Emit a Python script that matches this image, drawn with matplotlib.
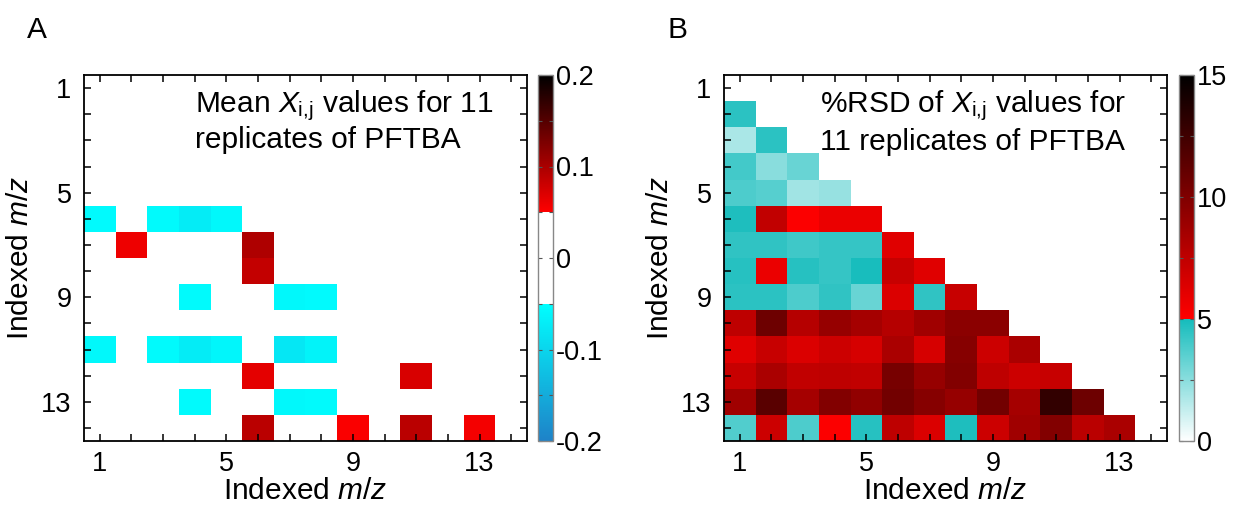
import numpy as np
import matplotlib
matplotlib.use("Agg")
import matplotlib.pyplot as plt
from matplotlib.colors import LinearSegmentedColormap
from matplotlib.ticker import FixedLocator

plt.rcParams['font.family'] = ['Liberation Sans', 'DejaVu Sans']
plt.rcParams['mathtext.fontset'] = 'custom'
plt.rcParams['mathtext.rm'] = 'Liberation Sans'
plt.rcParams['mathtext.it'] = 'Liberation Sans:italic'

# ---------------- data ----------------
n_mz = 14
tick_labels = [1, 5, 9, 13]

# Panel A: mean X_ij (lower triangle, row i has columns 1..i-1)
mean_rows = [
    [],
    [0.0],
    [0.0, 0.0],
    [0.0, 0.0, 0.0],
    [0.0, 0.0, 0.0, 0.0],
    [-0.055, 0.0, -0.056, -0.072, -0.058],
    [0.0, 0.060, 0.0, 0.0, 0.0, 0.097],
    [0.0, 0.0, 0.0, 0.0, 0.0, 0.085, 0.0],
    [0.0, 0.0, 0.0, -0.056, 0.0, 0.0, -0.058, -0.055],
    [0.0, 0.0, 0.0, 0.0, 0.0, 0.0, 0.0, 0.0, 0.0],
    [-0.058, 0.0, -0.056, -0.072, -0.060, 0.0, -0.078, -0.064, 0.0, 0.0],
    [0.0, 0.0, 0.0, 0.0, 0.0, 0.065, 0.0, 0.0, 0.0, 0.0, 0.072],
    [0.0, 0.0, 0.0, -0.056, 0.0, 0.0, -0.058, -0.056, 0.0, 0.0, 0.0, 0.0],
    [0.0, 0.0, 0.0, 0.0, 0.0, 0.090, 0.0, 0.0, 0.053, 0.0, 0.090, 0.0, 0.056],
]

# Panel B: %RSD of X_ij
rsd_rows = [
    [],
    [4.5],
    [1.8, 4.5],
    [4.0, 2.5, 3.2],
    [3.8, 3.6, 2.0, 2.2],
    [4.8, 7.4, 5.1, 5.8, 5.8],
    [4.4, 4.4, 4.1, 4.3, 4.3, 6.2],
    [4.6, 5.8, 4.6, 4.3, 4.9, 7.2, 6.2],
    [4.5, 4.5, 3.8, 4.4, 3.2, 6.4, 4.4, 7.2],
    [7.5, 10.7, 7.9, 9.1, 8.5, 7.9, 8.7, 9.5, 9.5],
    [6.2, 7.2, 6.4, 7.0, 6.6, 8.3, 6.6, 9.7, 7.0, 8.3],
    [7.2, 8.3, 7.4, 7.5, 7.4, 10.3, 9.1, 9.9, 7.5, 7.0, 7.2],
    [8.7, 11.5, 8.5, 9.9, 9.3, 10.5, 9.7, 9.1, 10.5, 8.5, 13.0, 10.7],
    [3.7, 7.0, 3.8, 5.1, 4.6, 7.5, 6.4, 4.8, 7.0, 8.7, 9.9, 7.7, 8.3],
]

title_a = [r"Mean $\mathit{X}_{\mathrm{i{,}j}}$ values for 11", "replicates of PFTBA"]
title_b = [r"%RSD of $\mathit{X}_{\mathrm{i{,}j}}$ values for", "11 replicates of PFTBA"]


def to_matrix(rows):
    m = np.full((n_mz, n_mz), np.nan)
    for i, r in enumerate(rows):
        for j, v in enumerate(r):
            m[i, j] = v
    return m


mean_mat = to_matrix(mean_rows)
rsd_mat = to_matrix(rsd_rows)

# ---------------- colormaps ----------------
cmap_a = LinearSegmentedColormap.from_list("meanmap", [
    (0.0, (30/255, 130/255, 200/255)),
    (0.375, (0.0, 1.0, 1.0)),
    (0.3751, (1.0, 1.0, 1.0)),
    (0.6249, (1.0, 1.0, 1.0)),
    (0.625, (1.0, 0.0, 0.0)),
    (1.0, (0.0, 0.0, 0.0)),
], N=512)
cmap_a.set_bad('white')

cmap_b = LinearSegmentedColormap.from_list("rsdmap", [
    (0.0, (1.0, 1.0, 1.0)),
    (1/3, (20/255, 188/255, 188/255)),
    (1/3 + 1e-4, (1.0, 0.0, 0.0)),
    (1.0, (0.0, 0.0, 0.0)),
], N=512)
cmap_b.set_bad('white')

W, H = 1233, 508
fig = plt.figure(figsize=(W/100, H/100), dpi=100)

FS_TICK = 19.5
FS_LAB = 21.5


def px(x0, y0, x1, y1):
    return [x0/W, 1 - y1/H, (x1 - x0)/W, (y1 - y0)/H]


def style_axes(ax):
    ax.set_xlim(0.5, n_mz + 0.5)
    ax.set_ylim(n_mz + 0.5, 0.5)
    ax.xaxis.set_major_locator(FixedLocator(tick_labels))
    ax.yaxis.set_major_locator(FixedLocator(tick_labels))
    minors = [k for k in range(1, n_mz + 1) if k not in tick_labels]
    ax.xaxis.set_minor_locator(FixedLocator(minors))
    ax.yaxis.set_minor_locator(FixedLocator(minors))
    ax.set_xticklabels([str(t) for t in tick_labels])
    ax.set_yticklabels([str(t) for t in tick_labels])
    ax.tick_params(which='both', direction='in', length=5, width=1.1,
                   top=True, right=True, labelsize=FS_TICK, pad=9, color='black')
    ax.tick_params(axis='x', which='both', pad=7)
    for s in ax.spines.values():
        s.set_linewidth(1.3)
    ax.set_xlabel(r"Indexed $\mathit{m/z}$", fontsize=FS_LAB, labelpad=0)
    ax.set_ylabel(r"Indexed $\mathit{m/z}$", fontsize=FS_LAB, labelpad=5)


def style_cbar(cb, ticks, minors):
    cb.set_ticks(ticks)
    cb.ax.yaxis.set_minor_locator(FixedLocator(minors))
    cb.ax.tick_params(which='both', direction='in', length=3, width=0.8,
                      labelsize=FS_TICK, pad=2, color='#555555', left=True, right=True)
    cb.outline.set_edgecolor('#888888')
    cb.outline.set_linewidth(1.0)


# Panel A
axA = fig.add_axes(px(84, 75, 527, 441))
imA = axA.imshow(mean_mat, cmap=cmap_a, vmin=-0.2, vmax=0.2,
                 extent=[0.5, n_mz + 0.5, n_mz + 0.5, 0.5],
                 aspect='auto', interpolation='nearest')
style_axes(axA)
caxA = fig.add_axes(px(538, 75, 553, 441))
cbA = fig.colorbar(imA, cax=caxA)
style_cbar(cbA, [-0.2, -0.1, 0, 0.1, 0.2], [-0.15, -0.05, 0.05, 0.15])
cbA.set_ticklabels(["-0.2", "-0.1", "0", "0.1", "0.2"])

# Panel B
axB = fig.add_axes(px(724, 75, 1167, 441))
imB = axB.imshow(rsd_mat, cmap=cmap_b, vmin=0, vmax=15,
                 extent=[0.5, n_mz + 0.5, n_mz + 0.5, 0.5],
                 aspect='auto', interpolation='nearest')
style_axes(axB)
caxB = fig.colorbar(imB, cax=fig.add_axes(px(1179, 75, 1194, 441)))
style_cbar(caxB, [0, 5, 10, 15], [2.5, 7.5, 12.5])

# annotations
fig.text(195/W, 1 - 112/H, title_a[0], fontsize=FS_LAB, va='baseline', ha='left')
fig.text(195/W, 1 - 148/H, title_a[1], fontsize=FS_LAB, va='baseline', ha='left')
fig.text(820/W, 1 - 112/H, title_b[0], fontsize=FS_LAB, va='baseline', ha='left')
fig.text(820/W, 1 - 150/H, title_b[1], fontsize=FS_LAB, va='baseline', ha='left')

fig.text(27/W, 1 - 38/H, "A", fontsize=FS_LAB, va='baseline', ha='left')
fig.text(667/W, 1 - 38/H, "B", fontsize=FS_LAB, va='baseline', ha='left')

fig.savefig("out.png", dpi=100, facecolor='white')
